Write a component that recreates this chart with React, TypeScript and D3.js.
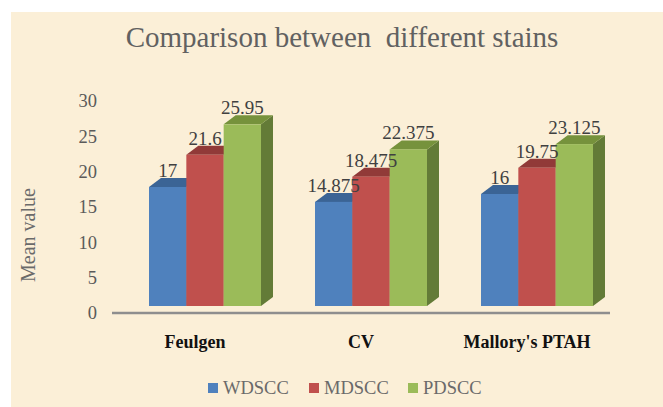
import React from 'react';
import * as d3 from 'd3';

const categories = ['Feulgen', 'CV', "Mallory's PTAH"];
const series = ['WDSCC', 'MDSCC', 'PDSCC'];
const wdscc = [17, 14.875, 16];
const mdscc = [21.6, 18.475, 19.75];
const pdscc = [25.95, 22.375, 23.125];
const yTicks = [0, 5, 10, 15, 20, 25, 30];

const values = [wdscc, mdscc, pdscc];
const front = ['#4f81bd', '#c0504d', '#9bbb59'];
const top = ['#3b6495', '#913a38', '#76923c'];
const side = ['#385d8a', '#8c3836', '#637b37'];

const W = 663, H = 407;
const DX = 12, DY = -9;
const serif = 'Liberation Serif';

export default function App() {
  const x = d3.scaleBand().domain(categories).range([112, 610]);
  const inner = d3.scaleBand().domain(series).range([0, 112]);
  const yBar = d3.scaleLinear().domain([0, 30]).range([306, 96]);
  const yAxis = d3.scaleLinear().domain([0, 30]).range([315, 103]);

  return (
    <svg width={W} height={H} style={{ position: 'absolute', left: 0, top: 0, fontFamily: serif }}>
      <rect x={0} y={0} width={W} height={H} fill="#fff" />
      <rect x={11} y={12} width={W - 11} height={H - 12} fill="#fbefd7" />
      <text x={342} y={47} textAnchor="middle" fontSize={29} fill="#616161"
        style={{ whiteSpace: 'pre' }}>
        Comparison between  different stains
      </text>
      <text transform="translate(35,235) rotate(-90)" textAnchor="middle"
        fontSize={20} fill="#6a6a6a">Mean value</text>
      {yTicks.map(t => (
        <text key={t} x={97} y={yAxis(t)} textAnchor="end" dominantBaseline="middle"
          fontSize={18.5} fill="#5a5a5a">{t}</text>
      ))}
      <line x1={112} x2={610} y1={313} y2={313} stroke="#8e8e8e" strokeWidth={2.5} />
      {categories.map((c, ci) => {
        const gx = (x(c) as number) + 37;
        return (
          <g key={c}>
            {series.map((s, si) => {
              const v = values[si][ci];
              const x0 = gx + (inner(s) as number);
              const x1 = x0 + inner.bandwidth();
              const y0 = yBar(0), y1 = yBar(v);
              return (
                <g key={s}>
                  <path d={`M${x1},${y1}L${x1 + DX},${y1 + DY}L${x1 + DX},${y0 + DY}L${x1},${y0}Z`} fill={side[si]} />
                  <path d={`M${x0},${y1}L${x0 + DX},${y1 + DY}L${x1 + DX},${y1 + DY}L${x1},${y1}Z`} fill={top[si]} />
                  <rect x={x0} y={y1} width={x1 - x0} height={y0 - y1} fill={front[si]} />
                </g>
              );
            })}
            {series.map((s, si) => {
              const v = values[si][ci];
              const cx = gx + (inner(s) as number) + inner.bandwidth() / 2;
              return (
                <text key={s} x={cx} y={yBar(v) - 10} textAnchor="middle"
                  fontSize={19} fill="#404040">{v}</text>
              );
            })}
            <text x={(x(c) as number) + x.bandwidth() / 2} y={348} textAnchor="middle"
              fontSize={18} fontWeight="bold" fill="#111">{c}</text>
          </g>
        );
      })}
      {series.map((s, si) => {
        const lx = [208, 309, 408][si];
        return (
          <g key={s}>
            <rect x={lx} y={383} width={10} height={10} fill={front[si]} />
            <text x={lx + 15} y={394} fontSize={18.5} fill="#6a6a6a">{s}</text>
          </g>
        );
      })}
    </svg>
  );
}
